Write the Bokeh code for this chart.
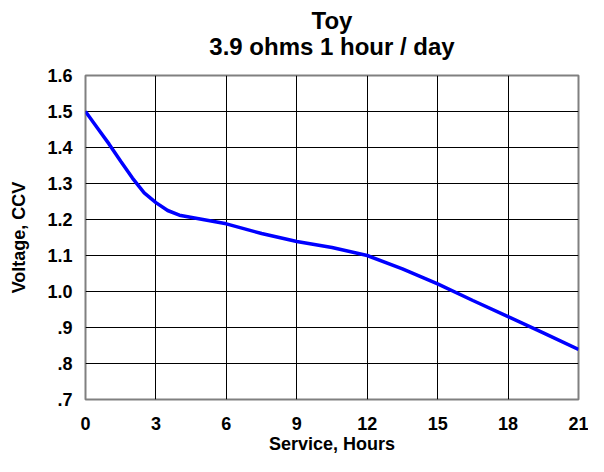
from bokeh.plotting import figure
from bokeh.models import FixedTicker, Range1d, Title
from bokeh.embed import file_html
from bokeh.resources import INLINE

hours = [0, 0.5, 1, 1.5, 2, 2.5, 3, 3.5, 4, 5, 6, 7.5, 9, 10.5, 12, 13.5, 15, 16.5, 18, 19.5, 21]
volts = [1.500, 1.455, 1.410, 1.362, 1.315, 1.274, 1.247, 1.225, 1.212, 1.200, 1.188, 1.161,
         1.139, 1.122, 1.100, 1.063, 1.021, 0.975, 0.930, 0.885, 0.839]

x_ticks = [0, 3, 6, 9, 12, 15, 18, 21]
y_ticks = [0.7, 0.8, 0.9, 1.0, 1.1, 1.2, 1.3, 1.4, 1.5, 1.6]
y_labels = [".7", ".8", ".9", "1.0", "1.1", "1.2", "1.3", "1.4", "1.5", "1.6"]

title_line1 = "Toy"
title_line2 = "3.9 ohms 1 hour / day"

FONT = "Liberation Sans"

p = figure(width=588, height=456, output_backend="svg", toolbar_location=None,
           x_range=Range1d(0, 21), y_range=Range1d(0.7, 1.6), title=None,
           min_border_left=85, min_border_right=10, min_border_top=75, min_border_bottom=56)

p.add_layout(Title(text=title_line2, align="center", text_font=FONT, text_font_size="24px",
                   text_font_style="bold", text_color="black", standoff=31), "above")
p.add_layout(Title(text=title_line1, align="center", text_font=FONT, text_font_size="24px",
                   text_font_style="bold", text_color="black", standoff=-37), "above")

p.line(hours, volts, line_color="#0000FF", line_width=3.5)

p.xaxis.ticker = FixedTicker(ticks=x_ticks)
p.yaxis.ticker = FixedTicker(ticks=y_ticks)
p.yaxis.major_label_overrides = {t: l for t, l in zip(y_ticks, y_labels)}

for ax in (p.xaxis, p.yaxis):
    ax.axis_line_color = None
    ax.major_tick_line_color = None
    ax.minor_tick_line_color = None
    ax.major_tick_out = 0
    ax.major_tick_in = 0
    ax.minor_tick_out = 0
    ax.minor_tick_in = 0
    ax.major_label_text_font = FONT
    ax.major_label_text_font_size = "18px"
    ax.major_label_text_font_style = "bold"
    ax.major_label_text_color = "black"
    ax.axis_label_text_font = FONT
    ax.axis_label_text_font_size = "18px"
    ax.axis_label_text_font_style = "bold"
    ax.axis_label_text_color = "black"

p.xaxis.axis_label = "Service, Hours"
p.yaxis.axis_label = "Voltage, CCV"
p.xaxis.major_label_standoff = 17
p.xaxis.axis_label_standoff = 1
p.yaxis.major_label_standoff = 13
p.yaxis.axis_label_standoff = 15

p.xgrid.grid_line_color = "black"
p.ygrid.grid_line_color = "black"
p.xgrid.grid_line_width = 1
p.ygrid.grid_line_width = 1

p.outline_line_color = "#808080"
p.outline_line_width = 2
p.background_fill_color = "white"
p.border_fill_color = "white"

open("out.html", "w").write(file_html(p, INLINE))
